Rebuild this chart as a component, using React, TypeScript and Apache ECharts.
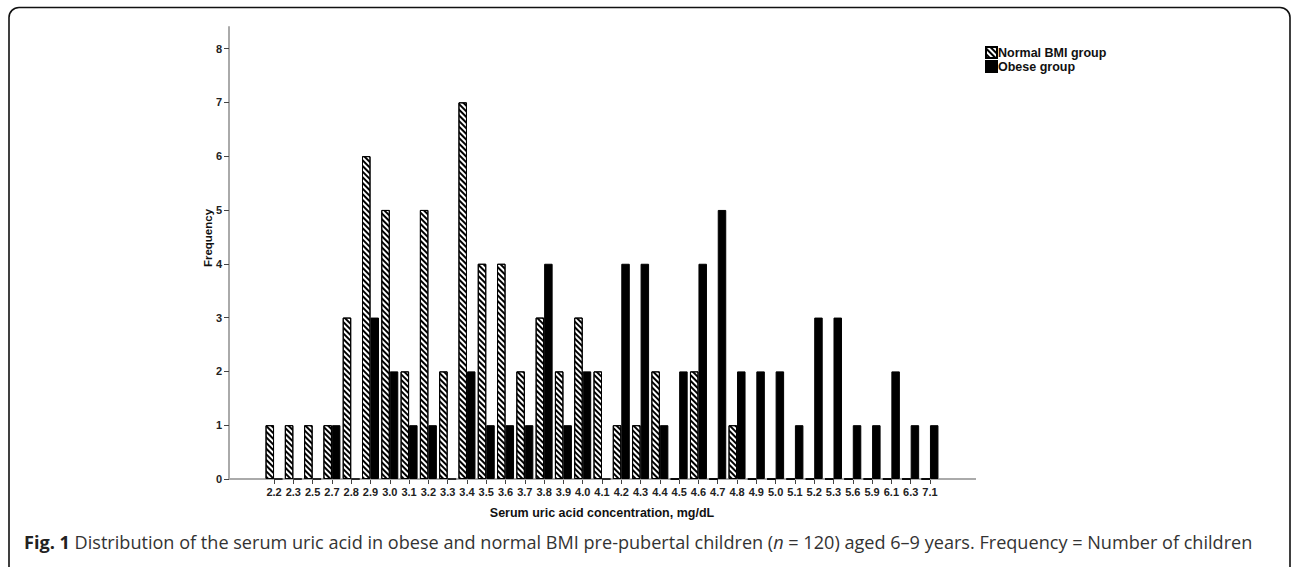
import React, { useEffect, useRef } from "react";
import * as echarts from "echarts";

const categories = ["2.2","2.3","2.5","2.7","2.8","2.9","3.0","3.1","3.2","3.3","3.4","3.5","3.6","3.7","3.8","3.9","4.0","4.1","4.2","4.3","4.4","4.5","4.6","4.7","4.8","4.9","5.0","5.1","5.2","5.3","5.6","5.9","6.1","6.3","7.1"];
const normalBMI = [1,1,1,1,3,6,5,2,5,2,7,4,4,2,3,2,3,2,1,1,2,0,2,0,1,0,0,0,0,0,0,0,0,0,0];
const obese = [0,0,0,1,0,3,2,1,1,0,2,1,1,1,4,1,2,0,4,4,1,2,4,5,2,2,2,1,3,3,1,1,2,1,1];
const yTicks = [0,1,2,3,4,5,6,7,8];

const seriesNames = ["Normal BMI group", "Obese group"];
const xName = "Serum uric acid concentration, mg/dL";
const yName = "Frequency";

export default function App() {
  const ref = useRef<HTMLDivElement>(null);
  useEffect(() => {
    if (!ref.current) return;
    const chart = echarts.init(ref.current, null, { renderer: "svg" });
    const hatch = {
      symbol: "rect",
      symbolSize: 1,
      dashArrayX: [1, 0],
      dashArrayY: [1.2, 2.0],
      rotation: Math.PI / 4,
      color: "#000",
      backgroundColor: "#fff",
    };
    chart.setOption({
      animation: false,
      backgroundColor: "#fff",
      textStyle: { fontFamily: "Liberation Sans, Arial, sans-serif" },
      grid: { left: 264.4, right: 352.4, top: 27, bottom: 88 },
      legend: {
        orient: "vertical",
        left: 985,
        top: 46,
        padding: 0,
        itemWidth: 11,
        itemHeight: 11,
        itemGap: 1,
        icon: "rect",
        textStyle: { fontSize: 12.5, fontWeight: "bold", color: "#111", padding: [0, 0, 0, -4] },
        data: seriesNames,
      },
      xAxis: {
        type: "category",
        data: categories,
        axisLine: { show: false },
        axisTick: { show: true, alignWithLabel: true, length: 5, lineStyle: { color: "#444", width: 1 } },
        axisLabel: { interval: 0, fontSize: 11, fontWeight: "bold", color: "#222", margin: 7 },
        name: xName,
        nameLocation: "middle",
        nameGap: 27,
        nameTextStyle: { fontSize: 12.5, fontWeight: "bold", color: "#111" },
      },
      yAxis: {
        type: "value",
        min: 0,
        max: 8.4,
        offset: 35.4,
        splitLine: { show: false },
        axisLine: { show: true, lineStyle: { color: "#aaa", width: 2 } },
        axisTick: { show: true, inside: false, length: 5, customValues: yTicks, lineStyle: { color: "#444", width: 1 } },
        axisLabel: { fontSize: 11, fontWeight: "bold", color: "#222", margin: 7, customValues: yTicks },
      },
      series: [
        {
          name: seriesNames[0],
          type: "bar",
          data: normalBMI,
          barWidth: 8.5,
          barGap: "0%",
          itemStyle: { color: "#fff", borderColor: "#000", borderWidth: 1, decal: hatch },
        },
        {
          name: seriesNames[1],
          type: "bar",
          data: obese,
          barWidth: 8.5,
          barGap: "0%",
          itemStyle: { color: "#000", borderColor: "#000", borderWidth: 1 },
        },
      ],
      graphic: [
        {
          type: "line",
          shape: { x1: 229, y1: 479, x2: 976, y2: 479 },
          style: { stroke: "#aaa", lineWidth: 2 },
          z: 1,
        },
        {
          type: "text",
          x: 208,
          y: 238,
          rotation: Math.PI / 2,
          style: {
            text: yName,
            font: "bold 11.5px 'Liberation Sans', Arial, sans-serif",
            fill: "#111",
            align: "center",
            verticalAlign: "middle",
          },
        },
        {
          type: "rect",
          shape: { x: 9, y: 7.5, width: 1281, height: 575, r: 10 },
          style: { fill: "none", stroke: "#111", lineWidth: 1.6 },
        },
        {
          type: "text",
          left: 24,
          top: 533,
          style: {
            text: "{b|Fig. 1} Distribution of the serum uric acid in obese and normal BMI pre-pubertal children ({i|n} = 120) aged 6–9 years. Frequency = Number of children",
            font: "18.1px 'Open Sans', sans-serif",
            fill: "#333",
            rich: {
              b: { fontWeight: "bold", fontSize: 18.1, fontFamily: "Open Sans", fill: "#222" },
              i: { fontStyle: "italic", fontSize: 18.1, fontFamily: "Open Sans", fill: "#333" },
            },
          },
        },
      ],
    });
    return () => chart.dispose();
  }, []);
  return <div ref={ref} style={{ position: "fixed", left: 0, top: 0, width: 1292, height: 567 }} />;
}
